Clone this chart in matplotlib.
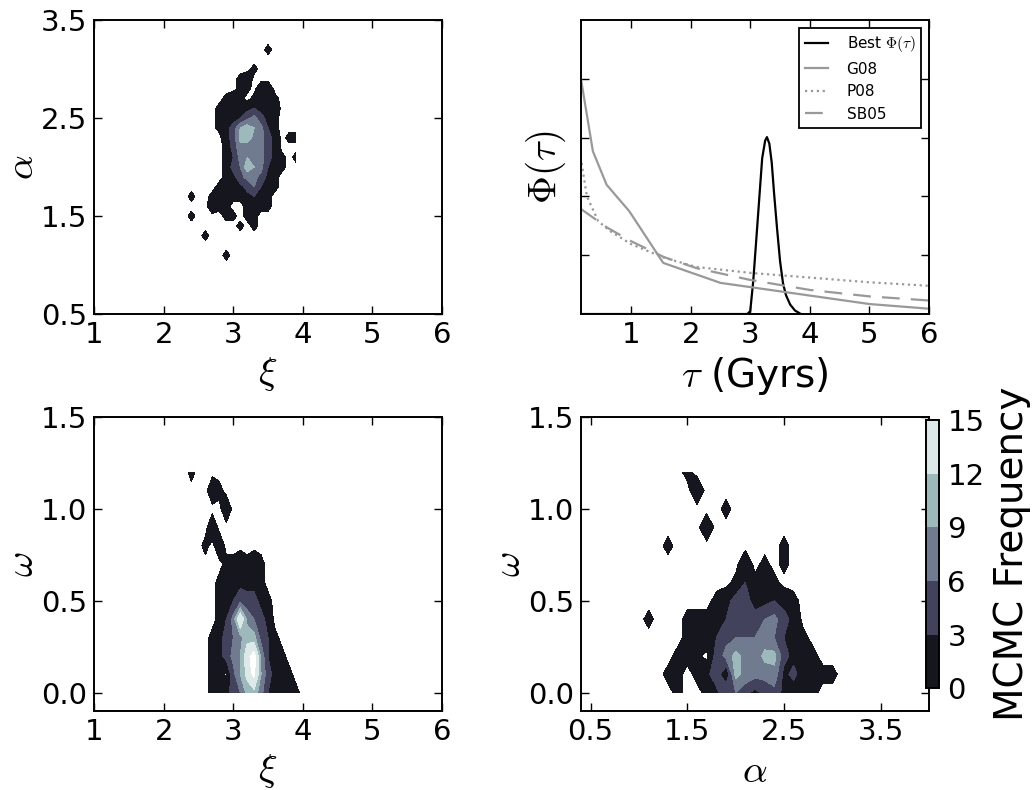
import numpy as np
import matplotlib
matplotlib.use('Agg')
import matplotlib.pyplot as plt
from matplotlib.colors import ListedColormap, BoundaryNorm
from matplotlib.cm import ScalarMappable

plt.rcParams['mathtext.fontset'] = 'cm'
plt.rcParams['font.family'] = ['DejaVu Sans']

# ---- MCMC histogram grids (bin centres, step 0.1) ----
xi_bins = np.arange(2.3, 4.0, 0.1).round(1)          # 17 bins, panel xi-alpha
alpha_bins = np.arange(1.0, 3.35, 0.1).round(1)      # 24 bins
# rows: alpha from 3.3 (top) down to 1.0
counts_xi_alpha = np.array([
    [0, 0, 0, 0, 0, 0, 0, 0, 0, 0, 0, 0, 0, 0, 0, 0, 0],
    [0, 0, 0, 0, 0, 0, 0, 0, 0, 0, 0, 0, 1, 0, 0, 0, 0],
    [0, 0, 0, 0, 0, 0, 0, 0, 0, 0, 0, 0, 0, 0, 0, 0, 0],
    [0, 0, 0, 0, 0, 0, 0, 0, 0, 0, 1, 0, 0, 0, 0, 0, 0],
    [0, 0, 0, 0, 0, 0, 0, 0, 1, 2, 0, 0, 0, 0, 0, 0, 0],
    [0, 0, 0, 0, 0, 0, 0, 0, 1, 1, 0, 2, 2, 0, 0, 0, 0],
    [0, 0, 0, 0, 0, 0, 1, 2, 1, 0, 1, 2, 2, 1, 0, 0, 0],
    [0, 0, 0, 0, 0, 1, 1, 2, 2, 2, 3, 2, 2, 2, 0, 0, 0],
    [0, 0, 0, 0, 0, 1, 2, 2, 3, 5, 7, 4, 2, 1, 0, 0, 0],
    [0, 0, 0, 0, 0, 1, 2, 4, 9, 11, 9, 7, 3, 1, 0, 0, 0],
    [0, 0, 0, 0, 0, 0, 2, 4, 10, 11, 8, 7, 4, 2, 0, 1, 1],
    [0, 0, 0, 0, 0, 0, 1, 4, 8, 7, 6, 7, 4, 2, 0, 0, 0],
    [0, 0, 0, 0, 0, 0, 1, 3, 7, 9, 7, 7, 4, 2, 1, 0, 1],
    [0, 0, 0, 0, 0, 0, 1, 4, 6, 11, 9, 7, 3, 1, 1, 0, 0],
    [0, 0, 0, 0, 0, 0, 1, 2, 5, 7, 7, 5, 2, 1, 0, 0, 0],
    [0, 0, 0, 0, 0, 1, 1, 2, 2, 4, 6, 3, 2, 1, 0, 0, 0],
    [0, 1, 0, 0, 1, 1, 1, 1, 1, 2, 3, 1, 1, 0, 0, 0, 0],
    [0, 0, 0, 0, 2, 1, 1, 0, 0, 1, 2, 1, 1, 0, 0, 0, 0],
    [0, 1, 0, 0, 0, 0, 1, 1, 0, 1, 1, 0, 0, 0, 0, 0, 0],
    [0, 0, 0, 0, 0, 0, 0, 0, 1, 0, 1, 0, 0, 0, 0, 0, 0],
    [0, 0, 0, 1, 0, 0, 0, 0, 0, 0, 0, 0, 0, 0, 0, 0, 0],
    [0, 0, 0, 0, 0, 0, 0, 0, 0, 0, 0, 0, 0, 0, 0, 0, 0],
    [0, 0, 0, 0, 0, 0, 1, 0, 0, 0, 0, 0, 0, 0, 0, 0, 0],
    [0, 0, 0, 0, 0, 0, 0, 0, 0, 0, 0, 0, 0, 0, 0, 0, 0],
])

xi_bins_w = np.arange(2.3, 4.05, 0.1).round(1)       # 18 bins, panel xi-omega
omega_bins = np.arange(0.0, 1.25, 0.1).round(1)      # 13 bins
# rows: omega from 1.2 (top) down to 0.0
counts_xi_omega = np.array([
    [0, 1, 0, 0, 0, 0, 0, 0, 0, 0, 0, 0, 0, 0, 0, 0, 0, 0],
    [0, 0, 0, 0, 2, 1, 0, 0, 0, 0, 0, 0, 0, 0, 0, 0, 0, 0],
    [0, 0, 0, 0, 0, 0, 2, 0, 0, 0, 0, 0, 0, 0, 0, 0, 0, 0],
    [0, 0, 0, 0, 2, 0, 0, 0, 0, 0, 0, 0, 0, 0, 0, 0, 0, 0],
    [0, 0, 0, 1, 0, 2, 0, 0, 0, 0, 0, 0, 0, 0, 0, 0, 0, 0],
    [0, 0, 0, 0, 0, 0, 1, 1, 2, 1, 2, 1, 0, 0, 0, 0, 0, 0],
    [0, 0, 0, 0, 0, 1, 1, 2, 2, 2, 2, 1, 0, 0, 0, 0, 0, 0],
    [0, 0, 0, 0, 0, 1, 2, 3, 5, 4, 4, 2, 1, 0, 0, 0, 0, 0],
    [0, 0, 0, 0, 0, 1, 3, 7, 16, 8, 6, 4, 2, 0, 0, 0, 0, 0],
    [0, 0, 0, 0, 1, 2, 4, 6, 8, 11, 10, 5, 3, 1, 0, 0, 0, 0],
    [0, 0, 0, 0, 1, 2, 4, 7, 9, 14, 18, 8, 3, 1, 1, 0, 0, 0],
    [0, 0, 0, 0, 1, 2, 0, 5, 9, 13, 17, 9, 4, 2, 1, 1, 0, 0],
    [0, 0, 0, 0, 1, 1, 2, 4, 6, 10, 11, 7, 3, 1, 1, 1, 1, 0],
])

alpha_bins_w = np.arange(1.0, 3.15, 0.1).round(1)    # 22 bins, panel alpha-omega
# rows: omega from 1.2 (top) down to 0.0
counts_alpha_omega = np.array([
    [0, 0, 0, 0, 0, 1, 0, 0, 0, 0, 0, 0, 0, 0, 0, 0, 0, 0, 0, 0, 0, 0],
    [0, 0, 0, 0, 0, 0, 2, 0, 0, 0, 0, 0, 0, 0, 0, 0, 0, 0, 0, 0, 0, 0],
    [0, 0, 0, 0, 0, 0, 0, 0, 0, 1, 0, 0, 0, 0, 0, 0, 0, 0, 0, 0, 0, 0],
    [0, 0, 0, 0, 0, 0, 0, 2, 0, 0, 0, 0, 0, 0, 0, 0, 0, 0, 0, 0, 0, 0],
    [0, 0, 0, 1, 0, 0, 0, 0, 0, 0, 0, 0, 0, 0, 0, 1, 0, 0, 0, 0, 0, 0],
    [0, 0, 0, 0, 0, 0, 0, 0, 0, 0, 0, 2, 0, 1, 0, 1, 0, 0, 0, 0, 0, 0],
    [0, 0, 0, 0, 0, 0, 0, 0, 0, 0, 1, 3, 1, 2, 1, 0, 0, 0, 0, 0, 0, 0],
    [0, 0, 0, 0, 0, 0, 0, 0, 1, 2, 4, 4, 2, 2, 3, 2, 1, 0, 0, 0, 0, 0],
    [0, 1, 0, 0, 0, 1, 1, 1, 2, 3, 5, 5, 4, 6, 7, 4, 2, 0, 0, 0, 0, 0],
    [0, 0, 0, 0, 0, 1, 1, 2, 3, 5, 6, 6, 6, 7, 6, 3, 2, 1, 0, 0, 0, 0],
    [0, 0, 0, 0, 1, 1, 1, 0, 4, 7, 10, 8, 7, 10, 10, 4, 2, 1, 1, 0, 0, 0],
    [0, 0, 0, 1, 1, 0, 1, 2, 5, 0, 10, 8, 7, 7, 8, 2, 4, 1, 1, 1, 1, 0],
    [0, 0, 0, 0, 1, 0, 0, 1, 2, 6, 6, 4, 2, 4, 5, 2, 1, 1, 1, 0, 0, 0],
])

# ---- star formation history curves ----
best_tau = [0.2, 2.95, 3.0, 3.05, 3.1, 3.15, 3.2, 3.25, 3.28, 3.32, 3.36, 3.4,
            3.45, 3.5, 3.55, 3.6, 3.67, 3.75, 3.85]
best_phi = [0.0, 0.0, 0.05, 0.56, 1.25, 1.95, 2.65, 2.95, 3.01, 2.9, 2.58, 2.05,
            1.45, 0.9, 0.52, 0.32, 0.16, 0.06, 0.0]
g08_tau = [0.16, 0.36, 0.59, 0.97, 1.54, 2.5, 5.0, 6.0]
g08_phi = [4.0, 2.77, 2.2, 1.75, 0.87, 0.53, 0.17, 0.09]
p08_tau = [0.17, 0.26, 0.45, 0.65, 1.0, 1.55, 2.1, 3.0, 4.0, 5.0, 6.0]
p08_phi = [2.57, 2.0, 1.58, 1.41, 1.19, 0.96, 0.8, 0.7, 0.62, 0.54, 0.48]
sb05_tau = [0.17, 0.6, 1.0, 1.55, 2.1, 3.0, 4.0, 5.0, 6.0]
sb05_phi = [1.78, 1.47, 1.24, 0.97, 0.78, 0.58, 0.41, 0.3, 0.23]

cbar_bounds = [0, 3, 6, 9, 12, 15]
fill_levels = [0.5, 3, 6, 9, 12, 15]
band_colors = plt.cm.bone([0.1, 0.3, 0.5, 0.7, 0.9])

TICK = 21
LABEL = 28


def style(ax):
    ax.tick_params(direction='in', top=True, right=True, length=6, width=1,
                   labelsize=TICK, pad=5)
    for sp in ax.spines.values():
        sp.set_linewidth(1.4)


def density(ax, xb, yb, counts):
    X, Y = np.meshgrid(xb, yb)
    ax.contourf(X, Y, np.flipud(counts), levels=fill_levels, colors=band_colors)
    style(ax)


fig = plt.figure(figsize=(10.33, 7.9), dpi=100)

ax1 = fig.add_axes([0.091, 0.6025, 0.337, 0.372])
density(ax1, xi_bins, alpha_bins, counts_xi_alpha)
ax1.set_xlim(1, 6)
ax1.set_ylim(0.5, 3.5)
ax1.set_xticks([1, 2, 3, 4, 5, 6])
ax1.set_yticks([0.5, 1.5, 2.5, 3.5])
ax1.set_xlabel(r'$\xi$', fontsize=LABEL)
ax1.set_ylabel(r'$\alpha$', fontsize=LABEL, labelpad=0)

ax2 = fig.add_axes([0.5624, 0.6025, 0.337, 0.372])
ax2.plot(best_tau, best_phi, color='black', lw=1.6, label=r'Best $\Phi(\tau)$')
ax2.plot(g08_tau, g08_phi, color='0.6', lw=1.6, label='G08')
ax2.plot(p08_tau, p08_phi, color='0.6', lw=1.6, ls=':', label='P08')
ax2.plot(sb05_tau, sb05_phi, color='0.6', lw=1.6, ls=(0, (8, 5)), label='SB05')
style(ax2)
ax2.set_xlim(0.16, 6)
ax2.set_ylim(0, 5)
ax2.set_xticks([1, 2, 3, 4, 5, 6])
ax2.set_yticks([1, 2, 3, 4])
ax2.set_yticklabels([])
ax2.set_xlabel(r'$\tau$ (Gyrs)', fontsize=LABEL)
ax2.set_ylabel(r'$\Phi(\tau)$', fontsize=LABEL)
leg = ax2.legend(loc='upper right', fontsize=11, handlelength=1.5,
                 handletextpad=1.2, fancybox=False, framealpha=1)
leg.get_frame().set_edgecolor('black')
leg.get_frame().set_linewidth(1.3)

ax3 = fig.add_axes([0.091, 0.1, 0.337, 0.372])
density(ax3, xi_bins_w, omega_bins, counts_xi_omega)
ax3.set_xlim(1, 6)
ax3.set_ylim(-0.1, 1.5)
ax3.set_xticks([1, 2, 3, 4, 5, 6])
ax3.set_yticks([0.0, 0.5, 1.0, 1.5])
ax3.set_xlabel(r'$\xi$', fontsize=LABEL)
ax3.set_ylabel(r'$\omega$', fontsize=LABEL, labelpad=0)

ax4 = fig.add_axes([0.5624, 0.1, 0.337, 0.372])
density(ax4, alpha_bins_w, omega_bins, counts_alpha_omega)
ax4.set_xlim(0.4, 4.0)
ax4.set_ylim(-0.1, 1.5)
ax4.set_xticks([0.5, 1.5, 2.5, 3.5])
ax4.set_yticks([0.0, 0.5, 1.0, 1.5])
ax4.set_xlabel(r'$\alpha$', fontsize=LABEL)
ax4.set_ylabel(r'$\omega$', fontsize=LABEL, labelpad=0)

cax = fig.add_axes([0.8964, 0.129, 0.0126, 0.339])
sm = ScalarMappable(norm=BoundaryNorm(cbar_bounds, 5), cmap=ListedColormap(band_colors))
cb = fig.colorbar(sm, cax=cax, ticks=cbar_bounds)
cb.ax.tick_params(labelsize=TICK, length=0, pad=6)
cb.outline.set_linewidth(1.4)
cb.set_label('MCMC Frequency', fontsize=LABEL, labelpad=6)

fig.savefig('out.png', dpi=100)
